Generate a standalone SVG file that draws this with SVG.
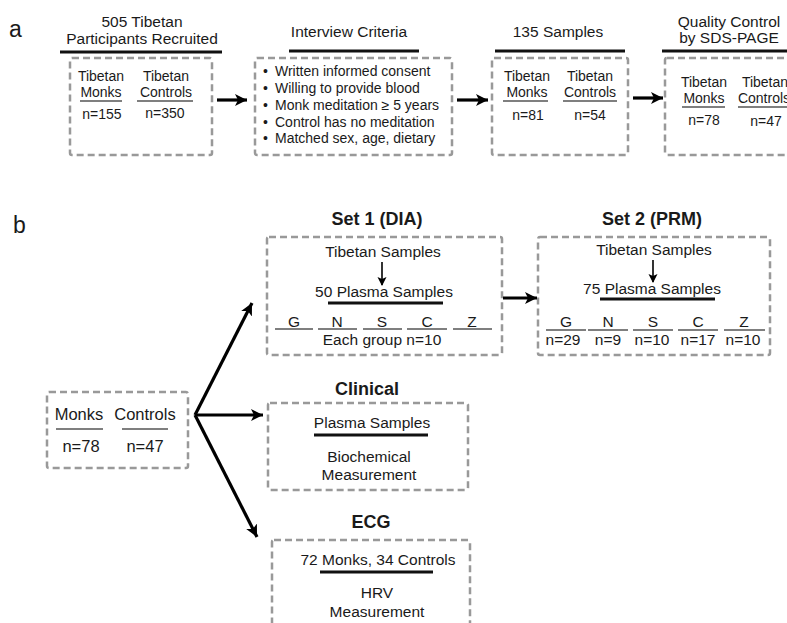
<svg xmlns="http://www.w3.org/2000/svg" width="787" height="623" viewBox="0 0 787 623">
<defs>
<style>
text{font-family:"Liberation Sans",Arial,sans-serif;fill:#1a1a1a;}
.h{font-size:15.5px;text-anchor:middle;}
.t{font-size:14px;text-anchor:middle;}
.s{font-size:15.5px;text-anchor:middle;}
.b{font-size:18px;font-weight:bold;text-anchor:middle;}
.lbl{font-size:23px;}
.box{fill:none;stroke:#999;stroke-width:2.5;stroke-dasharray:7 4;}
.ul{stroke:#111;stroke-width:3;}
.thin{stroke:#555;stroke-width:1.5;}
.arr{stroke:#000;stroke-width:3.2;fill:none;marker-end:url(#ah);}
.sarr{stroke:#000;stroke-width:1.6;fill:none;marker-end:url(#sh);}
</style>
<marker id="ah" markerWidth="14" markerHeight="14" refX="12" refY="6" orient="auto" markerUnits="userSpaceOnUse">
<path d="M0,0 L12,6 L0,12 L3,6 Z" fill="#000"/>
</marker>
<marker id="sh" markerWidth="10" markerHeight="10" refX="8" refY="4.5" orient="auto" markerUnits="userSpaceOnUse">
<path d="M0,0 L9,4.5 L0,9 L2,4.5 Z" fill="#000"/>
</marker>
</defs>
<rect width="787" height="623" fill="#fff"/>

<text class="lbl" x="9" y="37">a</text>
<text class="lbl" x="13" y="233">b</text>

<g id="recruited">
<text class="h" x="142" y="27">505 Tibetan</text>
<text class="h" x="142" y="44">Participants Recruited</text>
<line class="ul" x1="60" y1="52" x2="222" y2="52"/>
<rect class="box" x="70" y="58" width="142" height="97" rx="2"/>
<text class="t" x="101" y="81">Tibetan</text>
<text class="t" x="101" y="97">Monks</text>
<line class="thin" x1="80" y1="101" x2="122" y2="101"/>
<text class="t" x="166" y="81">Tibetan</text>
<text class="t" x="166" y="97">Controls</text>
<line class="thin" x1="137" y1="101" x2="193" y2="101"/>
<text class="t" x="102" y="119">n=155</text>
<text class="t" x="165" y="118">n=350</text>
</g>

<g id="interview">
<text class="h" x="349" y="37">Interview Criteria</text>
<line class="ul" x1="289" y1="51" x2="419" y2="51"/>
<rect class="box" x="255" y="58" width="197" height="97" rx="2"/>
<g style="font-size:14px">
<text x="263" y="76">•</text><text x="275" y="76">Written informed consent</text>
<text x="263" y="93">•</text><text x="275" y="93">Willing to provide blood</text>
<text x="263" y="110">•</text><text x="275" y="110">Monk meditation ≥ 5 years</text>
<text x="263" y="127">•</text><text x="275" y="127">Control has no meditation</text>
<text x="263" y="143">•</text><text x="275" y="143">Matched sex, age, dietary</text>
</g>
</g>

<g id="samples135">
<text class="h" x="558" y="37">135 Samples</text>
<line class="ul" x1="495" y1="51" x2="625" y2="51"/>
<rect class="box" x="492" y="58" width="136" height="97" rx="2"/>
<text class="t" x="527" y="81">Tibetan</text>
<text class="t" x="527" y="97">Monks</text>
<line class="thin" x1="503" y1="101" x2="548" y2="101"/>
<text class="t" x="590" y="81">Tibetan</text>
<text class="t" x="590" y="97">Controls</text>
<line class="thin" x1="563" y1="101" x2="617" y2="101"/>
<text class="t" x="528" y="120">n=81</text>
<text class="t" x="590" y="120">n=54</text>
</g>

<g id="qc">
<text class="h" x="729" y="27">Quality Control</text>
<text class="h" x="729" y="43">by SDS-PAGE</text>
<line class="ul" x1="662" y1="51" x2="800" y2="51"/>
<rect class="box" x="665" y="58" width="140" height="97" rx="2"/>
<text class="t" x="704" y="87">Tibetan</text>
<text class="t" x="704" y="103">Monks</text>
<line class="thin" x1="682" y1="107" x2="725" y2="107"/>
<text class="t" x="765" y="87">Tibetan</text>
<text class="t" x="764" y="103">Controls</text>
<line class="thin" x1="738" y1="107" x2="790" y2="107"/>
<text class="t" x="704" y="125">n=78</text>
<text class="t" x="766" y="126">n=47</text>
</g>

<g id="set1">
<text class="b" x="377" y="225">Set 1 (DIA)</text>
<rect class="box" x="267" y="237" width="235" height="118" rx="2"/>
<text class="s" x="383" y="257">Tibetan Samples</text>
<line class="sarr" x1="382" y1="262" x2="382" y2="285"/>
<text class="s" x="384" y="297">50 Plasma Samples</text>
<line class="ul" x1="328" y1="303" x2="443" y2="303"/>
<text class="s" x="294" y="327">G</text>
<text class="s" x="337" y="327">N</text>
<text class="s" x="382" y="327">S</text>
<text class="s" x="427" y="327">C</text>
<text class="s" x="472" y="327">Z</text>
<line class="thin" x1="275" y1="329" x2="313" y2="329"/>
<line class="thin" x1="318" y1="329" x2="357" y2="329"/>
<line class="thin" x1="363" y1="329" x2="402" y2="329"/>
<line class="thin" x1="407" y1="329" x2="447" y2="329"/>
<line class="thin" x1="453" y1="329" x2="492" y2="329"/>
<text class="s" x="382" y="345">Each group n=10</text>
</g>

<g id="set2">
<text class="b" x="652" y="225">Set 2 (PRM)</text>
<rect class="box" x="538" y="237" width="232" height="118" rx="2"/>
<text class="s" x="654" y="255">Tibetan Samples</text>
<line class="sarr" x1="653" y1="260" x2="653" y2="282"/>
<text class="s" x="652" y="294">75 Plasma Samples</text>
<line class="ul" x1="600" y1="299" x2="715" y2="299"/>
<text class="s" x="566" y="327">G</text>
<text class="s" x="608" y="327">N</text>
<text class="s" x="653" y="327">S</text>
<text class="s" x="698" y="327">C</text>
<text class="s" x="744" y="327">Z</text>
<line class="thin" x1="546" y1="330" x2="586" y2="330"/>
<line class="thin" x1="588" y1="330" x2="628" y2="330"/>
<line class="thin" x1="633" y1="330" x2="673" y2="330"/>
<line class="thin" x1="678" y1="330" x2="718" y2="330"/>
<line class="thin" x1="724" y1="330" x2="765" y2="330"/>
<text class="s" x="563" y="345">n=29</text>
<text class="s" x="608" y="345">n=9</text>
<text class="s" x="652" y="345">n=10</text>
<text class="s" x="698" y="345">n=17</text>
<text class="s" x="743" y="345">n=10</text>
</g>

<g id="cohort">
<rect class="box" x="47" y="392" width="141" height="76" rx="2"/>
<text class="s" x="79" y="420" style="font-size:16.5px">Monks</text>
<line class="thin" x1="56" y1="429" x2="103" y2="429"/>
<text class="s" x="145" y="420" style="font-size:16.5px">Controls</text>
<line class="thin" x1="122" y1="429" x2="168" y2="429"/>
<text class="s" x="81" y="452" style="font-size:16.5px">n=78</text>
<text class="s" x="145" y="452" style="font-size:16.5px">n=47</text>
</g>

<g id="clinical">
<text class="b" x="367" y="395">Clinical</text>
<rect class="box" x="268" y="403" width="200" height="87" rx="2"/>
<text class="s" x="372" y="428">Plasma Samples</text>
<line class="ul" x1="314" y1="435" x2="428" y2="435"/>
<text class="s" x="369" y="462">Biochemical</text>
<text class="s" x="369" y="480">Measurement</text>
</g>

<g id="ecg">
<text class="b" x="371" y="528">ECG</text>
<rect class="box" x="272" y="540" width="198" height="100" rx="2"/>
<text class="s" x="378" y="565">72 Monks, 34 Controls</text>
<line class="ul" x1="320" y1="572" x2="433" y2="572"/>
<text class="s" x="377" y="598">HRV</text>
<text class="s" x="377" y="617">Measurement</text>
</g>

<g id="connectors">
<line class="arr" x1="217" y1="100" x2="247" y2="100"/>
<line class="arr" x1="457" y1="100" x2="488" y2="100"/>
<line class="arr" x1="633" y1="98" x2="663" y2="98"/>
<line class="arr" x1="503" y1="298" x2="537" y2="298"/>
<line class="arr" x1="195" y1="415" x2="263" y2="415"/>
<line class="arr" x1="195" y1="415" x2="257" y2="537"/>
<line class="arr" x1="195" y1="415" x2="252" y2="303"/>
</g>
</svg>
